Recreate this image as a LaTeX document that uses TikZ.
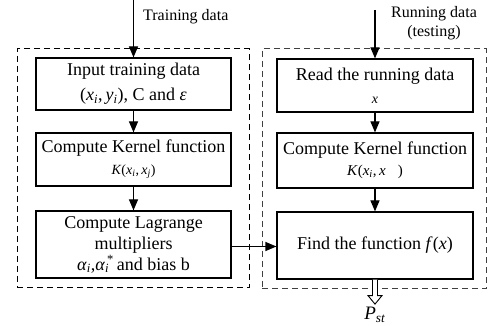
\documentclass[tikz,border=0pt]{standalone}
\usepackage{fontspec}
\setmainfont{Liberation Serif}
\usetikzlibrary{arrows.meta,calc}
\newcommand{\vv}[1]{\textit{#1}}
\newcommand{\sbs}[1]{\textsubscript{\textit{#1}}}
\begin{document}
\begin{tikzpicture}[x=1pt,y=-1pt,
  box/.style={draw,line width=1.2pt,minimum width=195pt,align=center,inner sep=0pt,font=\fontsize{18}{24}\selectfont},
  grp/.style={draw,dashed,line width=1pt,dash pattern=on 6pt off 4pt,inner sep=0pt},
  arr/.style={line width=1.2pt,-{Triangle[length=11pt,width=9pt]}},
  lab/.style={font=\fontsize{16}{19}\selectfont,align=center,inner sep=0pt}]
\useasboundingbox (0,0) rectangle (491,326);
% groups
\node[grp,minimum width=232pt,minimum height=239pt] (GL) at (133,168.5) {};
\node[grp,draw=black!75,minimum width=224pt,minimum height=240pt] (GR) at (374,169) {};
% left boxes
\node[box,minimum height=52pt] (L1) at (133.5,84) {Input training data\\[1pt] (\vv{x}\sbs{i},\,\vv{y}\sbs{i}), C and \vv{ε}};
\node[box,minimum height=53pt] (L2) at (133.5,159.5) {Compute Kernel function\\[-2pt] {\fontsize{14}{16}\selectfont\vv{K}(\vv{x}\sbs{i},\,\vv{x}\sbs{j})}};
\node[box,minimum height=67pt,font=\fontsize{18}{21}\selectfont] (L3) at (133.5,244.5) {Compute Lagrange\\ multipliers\\ \vv{α}\sbs{i},\vv{α}\sbs{i}\kern-0.12em\textsuperscript{*}\,and bias b};
% right boxes
\node[box,minimum width=196pt,minimum height=53pt] (R1) at (375,85.5) {Read the running data\\[-1pt] {\fontsize{14}{16}\selectfont\vv{x}}};
\node[box,minimum width=196pt,minimum height=55pt] (R2) at (375,160.5) {Compute Kernel function\\[-3pt] {\fontsize{15}{16}\selectfont\vv{K}(\vv{x}\sbs{i},\,\vv{x}\hspace{0.8em})}};
\node[box,minimum width=196pt,minimum height=67pt] (R3) at (375,245.5) {Find the function \vv{f}(\vv{x})};
% inputs
\coordinate (TS) at (133.5,0);
\coordinate (RS) at (375,10);
\draw[arr] (TS) -- (L1.north);
\draw[arr] (RS) -- (R1.north);
\node[lab,anchor=west] (TL) at (143,17) {Training data};
\node[lab] (RL) at (434,23) {Running data\\(testing)};
% flow
\draw[arr] (L1.south) -- (L2.north);
\draw[arr] (L2.south) -- (L3.north);
\draw[arr] (R1.south) -- (R2.north);
\draw[arr] (R2.south) -- (R3.north);
\coordinate (LA) at ($(L3.east)+(0,2)$);
\draw[arr] (LA) -- (LA -| R3.west);
% output hollow arrow
\draw[line width=0.9pt,fill=white] (R3.south) ++(-2.5,0) -- ++(0,16) -- ++(-4.5,0) -- ++(7,8.5) -- ++(7,-8.5) -- ++(-4.5,0) -- ++(0,-16);
\node[inner sep=0pt,font=\fontsize{19}{20}\selectfont] (P) at (375,315) {\vv{P}\sbs{st}};
\end{tikzpicture}
\end{document}
